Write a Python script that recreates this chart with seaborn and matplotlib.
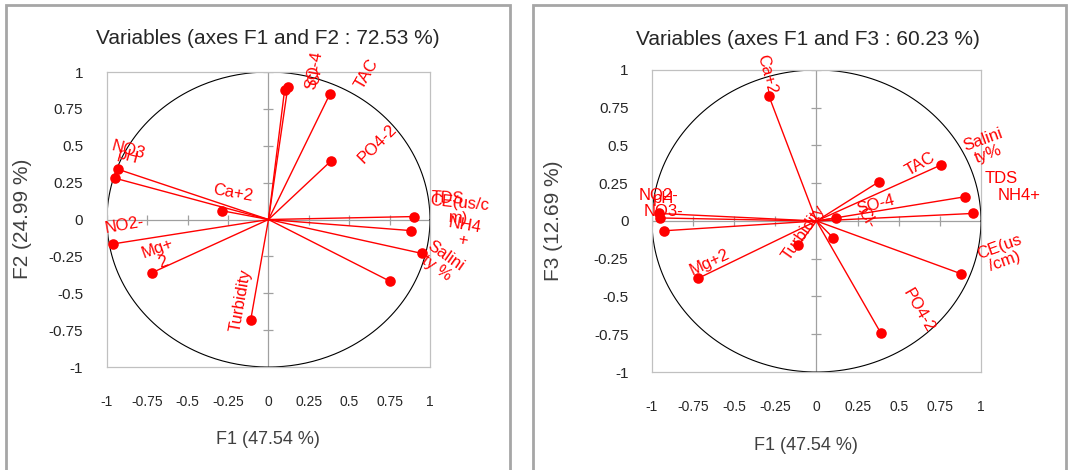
import numpy as np
import pandas as pd
import matplotlib
matplotlib.use("Agg")
import matplotlib.pyplot as plt
import seaborn as sns
from matplotlib.patches import Rectangle

# variable loadings read from the correlation circles
variables = ["Ca+2", "Mg+2", "Turbidity", "TDS", "CE(us/cm)", "NH4+", "Salinity%",
             "SO-4", "Cl-", "TAC", "PO4-2", "NO3", "NO2-", "pH"]
f1 = [-0.29, -0.72, -0.11, 0.90, 0.88, 0.95, 0.755, 0.12, 0.10, 0.38, 0.39, -0.93, -0.96, -0.95]
f2 = [0.06, -0.36, -0.68, 0.02, -0.075, -0.23, -0.42, 0.90, 0.88, 0.85, 0.40, 0.34, -0.165, 0.28]
f3 = [0.83, -0.38, -0.16, 0.16, -0.35, 0.05, 0.37, 0.02, -0.11, 0.26, -0.74, -0.065, 0.05, 0.02]

# label texts as they are wrapped in each panel
labels_left = ["Ca+2", "Mg+\n2", "Turbidity", "TDS", "CE(us/c\nm)", "NH4\n+", "Salini\nty %",
               "SO-4", "Cl-", "TAC", "PO4-2", "NO3", "NO2-", "pH"]
labels_right = ["Ca+2", "Mg+2", "Turbidity", "TDS", "CE(us\n/cm)", "NH4+", "Salini\nty%",
                "SO-4", "Cl-", "TAC", "PO4-2", "NO3-", "NO2-", "pH"]

# label placement (offset from the point, rotation) - layout only
off_left = [(0.07, 0.12, -10), (0.05, 0.12, 20), (-0.06, 0.13, 80), (0.21, 0.12, -3),
            (0.30, 0.135, -5), (0.26, 0.14, -10), (0.315, 0.13, -35), (0.165, 0.11, 80),
            (0.19, 0.10, 80), (0.23, 0.14, 60), (0.285, 0.115, 45), (0.06, 0.13, -15),
            (0.07, 0.125, 10), (0.08, 0.15, -15)]
off_right = [(-0.01, 0.14, -75), (0.07, 0.11, 25), (0.03, 0.08, 55), (0.22, 0.12, 0),
             (0.25, 0.13, 20), (0.28, 0.12, 0), (0.275, 0.12, 20), (0.24, 0.09, 15),
             (0.205, 0.13, -60), (0.25, 0.12, 30), (0.23, 0.15, -60), (0.0, 0.125, 0),
             (0.0, 0.12, 0), (0.02, 0.13, 0)]

ticks = [-1, -0.75, -0.5, -0.25, 0, 0.25, 0.5, 0.75, 1]
tick_text = ["-1", "-0.75", "-0.5", "-0.25", "0", "0.25", "0.5", "0.75", "1"]

sns.set_style("white")
plt.rcParams["font.family"] = ["Liberation Sans", "DejaVu Sans"]

fig = plt.figure(figsize=(10.72, 4.70), dpi=100)

# panel frames
for x0, w in [(0.006, 0.470), (0.497, 0.497)]:
    fig.patches.append(Rectangle((x0, -0.02), w, 1.01, transform=fig.transFigure,
                                 fill=False, edgecolor="#a6a6a6", linewidth=2))

ax1 = fig.add_axes([0.0998, 0.2191, 0.3013, 0.6277])
ax2 = fig.add_axes([0.6082, 0.2085, 0.3069, 0.6426])

df = pd.DataFrame({"var": variables, "F1": f1, "F2": f2, "F3": f3})
theta = np.linspace(0, 2 * np.pi, 400)


def draw_panel(ax, ycol, labels, offsets):
    ax.plot(np.cos(theta), np.sin(theta), color="black", lw=0.8, zorder=1)
    ax.axhline(0, color="#a0a0a0", lw=0.9, zorder=0)
    ax.axvline(0, color="#a0a0a0", lw=0.9, zorder=0)
    inner = [t for t in ticks if t != 0]
    ax.plot(np.zeros(len(inner)), inner, ls="none", marker="_", ms=7, color="#a0a0a0", mew=0.9)
    ax.plot(inner, np.zeros(len(inner)), ls="none", marker="|", ms=7, color="#a0a0a0", mew=0.9)
    for _, r in df.iterrows():
        ax.plot([0, r["F1"]], [0, r[ycol]], color="red", lw=1.0, zorder=2)
    sns.scatterplot(data=df, x="F1", y=ycol, ax=ax, color="red", s=58,
                    edgecolor="red", linewidth=0, zorder=3, legend=False)
    for (_, r), lab, (dx, dy, rot) in zip(df.iterrows(), labels, offsets):
        ax.text(r["F1"] + dx, r[ycol] + dy, lab, color="red", fontsize=12,
                rotation=rot, ha="center", va="center", rotation_mode="anchor",
                clip_on=False, zorder=4, linespacing=1.0)
    ax.set_xlim(-1, 1)
    ax.set_ylim(-1, 1)
    ax.set_xticks(ticks)
    ax.set_yticks(ticks)
    ax.set_xticklabels(tick_text, fontsize=10, family=["Liberation Sans Narrow", "Liberation Sans"])
    ax.set_yticklabels(tick_text, fontsize=11)
    ax.tick_params(axis="x", length=0, pad=20)
    ax.tick_params(axis="y", length=0, pad=17)
    for s in ax.spines.values():
        s.set_color("#c0c0c0")
        s.set_linewidth(0.9)
    ax.set_xlabel("")
    ax.set_ylabel("")


draw_panel(ax1, "F2", labels_left, off_left)
draw_panel(ax2, "F3", labels_right, off_right)

fig.text(0.25, 0.919, "Variables (axes F1 and F2 : 72.53 %)", ha="center", va="center", fontsize=15)
fig.text(0.754, 0.915, "Variables (axes F1 and F3 : 60.23 %)", ha="center", va="center", fontsize=15)
fig.text(0.25, 0.064, "F1 (47.54 %)", ha="center", va="center", fontsize=13, color="#404040")
fig.text(0.752, 0.053, "F1 (47.54 %)", ha="center", va="center", fontsize=13, color="#404040")
fig.text(0.021, 0.534, "F2 (24.99 %)", ha="center", va="center", rotation=90, fontsize=15, color="#404040")
fig.text(0.516, 0.53, "F3 (12.69 %)", ha="center", va="center", rotation=90, fontsize=15, color="#404040")

fig.savefig("out.png", dpi=100)
